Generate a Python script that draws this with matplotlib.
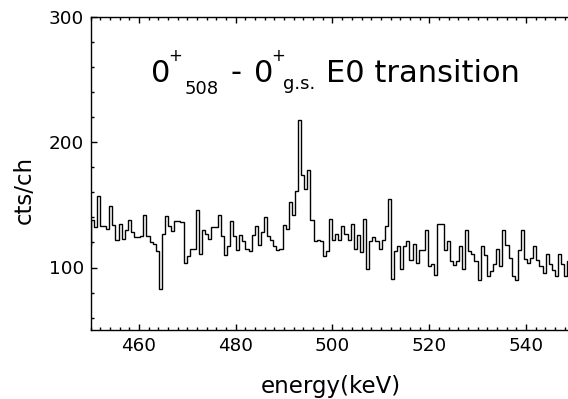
import numpy as np
import matplotlib
matplotlib.use('Agg')
import matplotlib.pyplot as plt
from matplotlib.ticker import MultipleLocator

# spectrum: counts per channel, channel width 0.64 keV starting just below 450 keV
E_START = 449.36
BIN_WIDTH = 0.64
counts = [
    117,
    138, 132, 157, 133, 133, 131, 149, 134, 122, 135,
    123, 130, 138, 128, 124, 124, 125, 142, 125, 120,
    119, 113, 83, 127, 141, 133, 129, 137, 137, 136,
    104, 109, 115, 115, 146, 111,
    130, 127, 123, 132, 132, 142, 125, 110, 117, 137,
    125, 114, 126, 121, 115, 113, 126, 133, 118, 128,
    140, 125, 122, 117, 114, 115, 134, 131, 152, 142,
    161, 218, 174, 163, 178, 138, 121, 122,
    121, 109, 113, 139, 122, 127, 122, 133, 127, 122,
    135, 115, 126, 112, 139, 99, 121, 124, 121, 115,
    122, 133, 155,
    91, 113, 117, 99, 117, 121, 106, 119, 104, 114,
    114, 130, 101, 103, 94, 135, 135, 114,
    121, 105, 102, 105, 117, 99, 130, 113, 111, 105,
    90, 117, 110, 93, 97, 103, 115, 101, 130, 118,
    108, 93, 90, 114, 130, 107, 104, 108, 117, 106,
    101, 96, 111, 103, 98, 93, 111, 103, 93, 105,
]
edges = E_START + BIN_WIDTH * np.arange(len(counts) + 1)

plt.rcParams.update({'font.family': 'DejaVu Sans'})

W, H = 568, 399
fig = plt.figure(figsize=(W / 100, H / 100), dpi=100)
ax = fig.add_axes([90.7 / W, 1 - 330 / H, 1 - 90.7 / W, (330 - 17.5) / H])

ax.stairs(counts, edges, color='black', lw=1.0, baseline=None)

ax.set_xlim(450, 548.7)
ax.set_ylim(50, 300)
ax.xaxis.set_major_locator(MultipleLocator(20))
ax.xaxis.set_minor_locator(MultipleLocator(2))
ax.yaxis.set_major_locator(MultipleLocator(100))
ax.yaxis.set_minor_locator(MultipleLocator(20))
ax.tick_params(which='both', direction='in', top=True, right=False,
               width=1.0, labelsize=13.2, pad=5)
ax.tick_params(which='major', length=4.5)
ax.tick_params(which='minor', length=2.2)
ax.spines['right'].set_visible(False)
for s in ['left', 'bottom', 'top']:
    ax.spines[s].set_linewidth(1.0)

fig.text(331 / W, 1 - 386 / H, 'energy(keV)', fontsize=16.5, ha='center', va='center')
fig.text(24 / W, 1 - 190 / H, 'cts/ch', fontsize=16.5, rotation=90,
         ha='center', va='center')

# level label: 0+_508 - 0+_g.s. E0 transition
def put(x, y, s, size):
    fig.text(x / W, 1 - y / H, s, fontsize=size, ha='left', va='baseline')

put(151, 81.5, '0', 22)
put(168, 61, '+', 12)
put(185, 93.5, '508', 13)
put(230, 81.5, '-', 22)
put(254, 81.5, '0', 22)
put(271, 61, '+', 12)
put(283, 89, 'g.s.', 13)
put(326, 81.5, 'E0 transition', 22)

fig.savefig('out.png', dpi=100)
